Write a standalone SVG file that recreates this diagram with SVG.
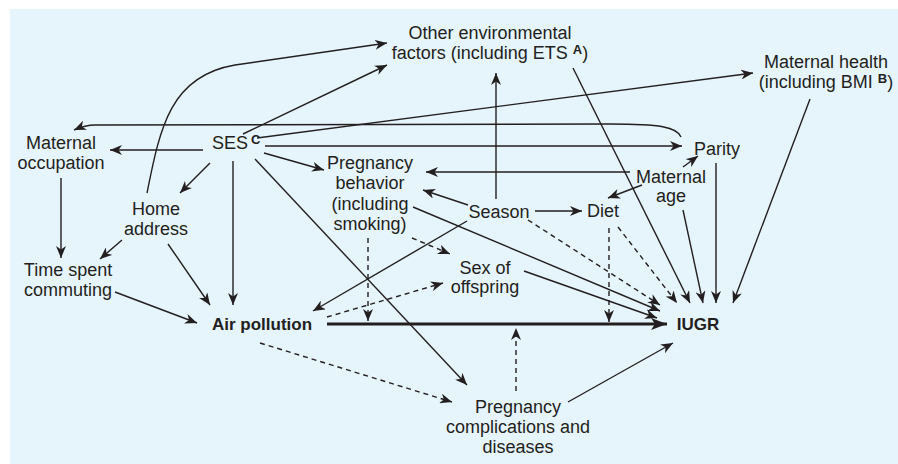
<svg xmlns="http://www.w3.org/2000/svg" width="898" height="464" viewBox="0 0 898 464">
<defs>
<style>
text{font-family:"Liberation Sans",Arial,sans-serif;font-size:18px;fill:#231f20;text-anchor:middle}
.b{font-weight:bold;font-size:17px}
.sup{font-weight:bold;font-size:13px}
.l{fill:none;stroke:#231f20;stroke-width:1.4;marker-end:url(#ah)}
.d{stroke-dasharray:5,4}
.t{stroke-width:3;marker-end:url(#ahb)}
</style>
<marker id="ah" viewBox="0 0 12 10" refX="12" refY="5" markerWidth="12" markerHeight="10" markerUnits="userSpaceOnUse" orient="auto">
<path d="M0,0 L12,5 L0,10 L3.5,5 z" fill="#231f20"/>
</marker>
<marker id="ahb" viewBox="0 0 16 12" refX="16" refY="6" markerWidth="16" markerHeight="12" markerUnits="userSpaceOnUse" orient="auto">
<path d="M0,0 L16,6 L0,12 L4,6 z" fill="#231f20"/>
</marker>
</defs>
<rect x="10" y="9" width="888" height="455" fill="#e6f4fc"/>
<g id="connectors">
<path class="l" d="M147,193 C160,128 170,76 235,65 L387,43"/>
<path class="l" d="M243,134 L387,65"/>
<path class="l" d="M573,68 L690,303"/>
<path class="l" d="M496,199 L496,73"/>
<path class="l" d="M257,138 L753,73"/>
<path class="l" d="M810,99 L733,303"/>
<path class="l" d="M681,137 C677,127 660,124 610,124 L95,125 C88,125 81,127 74,130"/>
<path class="l" d="M265,146 L682,146"/>
<path class="l" d="M203,150 L110,150"/>
<path class="l" d="M210,163 L180,193"/>
<path class="l" d="M233,161 L233,305"/>
<path class="l" d="M264,153 L324,170"/>
<path class="l" d="M255,159 L467,385"/>
<path class="l" d="M61,178 L61,258"/>
<path class="l" d="M122,240 L100,259"/>
<path class="l" d="M168,244 L210,305"/>
<path class="l" d="M115,292 L197,323"/>
<path class="l" d="M468,205 L423,190"/>
<path class="l" d="M535,211 L582,211"/>
<path class="l" d="M467,221 L313,311"/>
<path class="l" d="M630,172 L426,172"/>
<path class="l" d="M642,185 L608,198"/>
<path class="l" d="M683,167 L698,156"/>
<path class="l" d="M683,210 L703,303"/>
<path class="l" d="M716,163 L716,303"/>
<path class="l" d="M413,207 L660,311"/>
<path class="l" d="M524,271 L657,318"/>
<path class="l t" d="M327,324 L667,324"/>
<path class="l" d="M568,402 L673,343"/>
<path class="l d" d="M528,220 L660,305"/>
<path class="l d" d="M618,227 L677,303"/>
<path class="l d" d="M609,228 L609,322"/>
<path class="l d" d="M368,238 L368,321"/>
<path class="l d" d="M516,391 L516,328"/>
<path class="l d" d="M260,343 L452,402"/>
<path class="l d" d="M327,317 L443,283"/>
<path class="l d" d="M412,238 L450,254"/>
</g>
<g id="other-env"><text x="490" y="39">Other environmental</text><text x="490" y="59">factors (including ETS <tspan class="sup" dy="-5">A</tspan><tspan dy="5">)</tspan></text></g>
<g id="maternal-health"><text x="826" y="68">Maternal health</text><text x="826" y="88">(including BMI <tspan class="sup" dy="-5">B</tspan><tspan dy="5">)</tspan></text></g>
<g id="maternal-occupation"><text x="61" y="149">Maternal</text><text x="61" y="169">occupation</text></g>
<g id="ses"><text x="212" y="149" style="text-anchor:start">SES<tspan class="sup" dx="3" dy="-5">C</tspan></text></g>
<g id="home-address"><text x="156" y="215">Home</text><text x="156" y="235">address</text></g>
<g id="time-spent"><text x="68" y="276">Time spent</text><text x="68" y="296">commuting</text></g>
<g id="air-pollution"><text class="b" x="262" y="330">Air pollution</text></g>
<g id="iugr"><text class="b" x="698" y="330">IUGR</text></g>
<g id="pregnancy-complications"><text x="518" y="413">Pregnancy</text><text x="518" y="433">complications and</text><text x="518" y="453">diseases</text></g>
<g id="pregnancy-behavior"><text x="370" y="169">Pregnancy</text><text x="370" y="189">behavior</text><text x="370" y="210">(including</text><text x="370" y="230">smoking)</text></g>
<g id="season"><text x="499" y="218">Season</text></g>
<g id="diet"><text x="603" y="217">Diet</text></g>
<g id="sex-offspring"><text x="485" y="274">Sex of</text><text x="485" y="293">offspring</text></g>
<g id="maternal-age"><text x="671" y="183">Maternal</text><text x="671" y="202">age</text></g>
<g id="parity"><text x="717" y="155">Parity</text></g>
</svg>
